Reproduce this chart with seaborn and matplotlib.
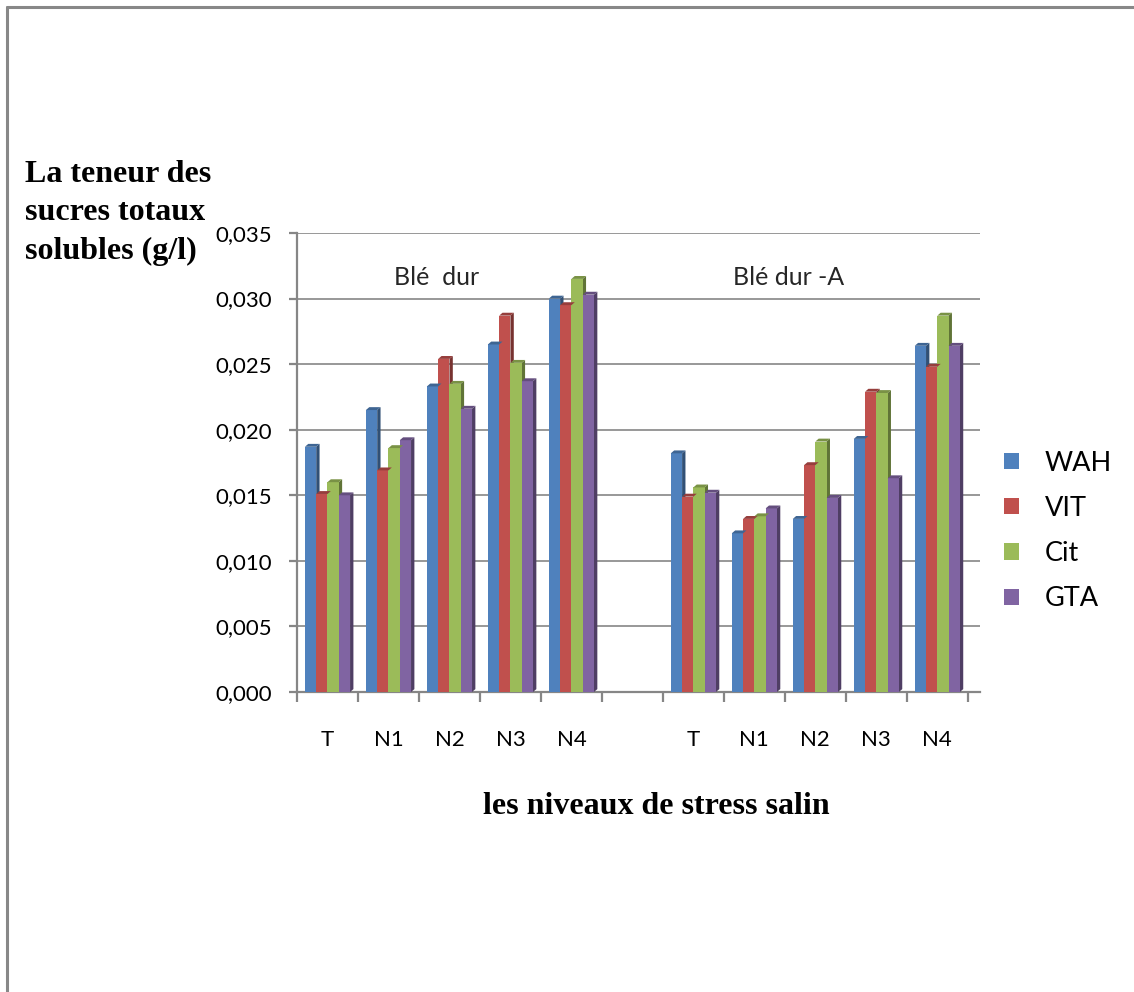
import numpy as np
import pandas as pd
import matplotlib
matplotlib.use("Agg")
import matplotlib.pyplot as plt
import matplotlib.colors as mcolors
from matplotlib.patches import Polygon
from matplotlib.lines import Line2D
from matplotlib.ticker import FuncFormatter, MultipleLocator, FixedLocator
import seaborn as sns

# ---- data -------------------------------------------------------------
niveaux = ["T", "N1", "N2", "N3", "N4"]
groupes = ["Blé  dur", "Blé dur -A"]
varietes = ["WAH", "VIT", "Cit", "GTA"]
couleurs = ["#4F81BD", "#C0504D", "#9BBB59", "#8064A2"]

# Blé dur
wah_bd = [0.0187, 0.0215, 0.0233, 0.0265, 0.0300]
vit_bd = [0.0151, 0.0169, 0.0254, 0.0287, 0.0295]
cit_bd = [0.0160, 0.0186, 0.0235, 0.0251, 0.0315]
gta_bd = [0.0150, 0.0192, 0.0216, 0.0237, 0.0303]

# Blé dur -A
wah_a = [0.0182, 0.0121, 0.0132, 0.0193, 0.0264]
vit_a = [0.0149, 0.0132, 0.0173, 0.0229, 0.0248]
cit_a = [0.0156, 0.0134, 0.0191, 0.0228, 0.0287]
gta_a = [0.0152, 0.0140, 0.0148, 0.0163, 0.0264]

series = {
    groupes[0]: [wah_bd, vit_bd, cit_bd, gta_bd],
    groupes[1]: [wah_a, vit_a, cit_a, gta_a],
}

rows = []
for g, vals in series.items():
    for v, serie in zip(varietes, vals):
        for n, val in zip(niveaux, serie):
            rows.append({"slot": f"{g}|{n}", "variete": v, "valeur": val})
df = pd.DataFrame(rows)

# one empty slot separates the two wheat groups
order = [f"{groupes[0]}|{n}" for n in niveaux] + ["vide"] + [f"{groupes[1]}|{n}" for n in niveaux]

# ---- figure -----------------------------------------------------------
sns.set_theme(style="white")
plt.rcParams["font.family"] = ["Lato", "DejaVu Sans"]
plt.rcParams["text.color"] = "black"

W, H = 1134, 992
fig = plt.figure(figsize=(W / 100, H / 100), dpi=100)
fig.patch.set_facecolor("white")
ax = fig.add_axes([297 / W, 1 - 692 / H, (980 - 297) / W, (692 - 233) / H])

sns.barplot(data=df, x="slot", y="valeur", hue="variete", order=order,
            hue_order=varietes, palette=couleurs, saturation=1, width=0.74,
            errorbar=None, ax=ax, zorder=3, linewidth=0)

# small depth faces on each column
dx, dy = 0.055, 0.00022
for p in list(ax.patches):
    h = p.get_height()
    if not np.isfinite(h) or h <= 0:
        continue
    x0 = p.get_x()
    x1 = x0 + p.get_width()
    fc = np.array(mcolors.to_rgb(p.get_facecolor()))
    side = Polygon([(x1, 0), (x1 + dx, dy), (x1 + dx, h + dy), (x1, h)],
                   closed=True, facecolor=fc * 0.62, edgecolor="none", zorder=2.9)
    top = Polygon([(x0, h), (x0 + dx, h + dy), (x1 + dx, h + dy), (x1, h)],
                  closed=True, facecolor=fc * 0.78, edgecolor="none", zorder=3.1)
    ax.add_patch(side)
    ax.add_patch(top)

grid_col = "#868686"
ax.set_ylim(0, 0.035)
ax.set_xlim(-0.5, 10.7)
ax.yaxis.set_major_locator(MultipleLocator(0.005))
ax.yaxis.set_major_formatter(FuncFormatter(lambda v, _: f"{v:.3f}".replace(".", ",")))
ax.grid(axis="y", color=grid_col, linewidth=1.2, zorder=0)
ax.grid(axis="x", visible=False)

ax.set_xticks(range(len(order)))
ax.set_xticklabels(niveaux + [""] + niveaux)
ax.xaxis.set_minor_locator(FixedLocator(np.arange(-0.5, 10.6, 1.0)))
ax.tick_params(axis="x", which="major", length=0, pad=27, labelsize=16, colors="black")
ax.tick_params(axis="x", which="minor", length=7, width=1.6, color=grid_col, direction="out", bottom=True)
ax.tick_params(axis="y", which="major", length=6, width=1.6, color=grid_col, direction="out",
               pad=12, labelsize=16, left=True)
for lab in ax.get_yticklabels() + ax.get_xticklabels():
    lab.set_color("black")

for s in ["top", "right"]:
    ax.spines[s].set_visible(False)
for s in ["left", "bottom"]:
    ax.spines[s].set_color(grid_col)
    ax.spines[s].set_linewidth(1.6)

ax.set_xlabel("")
ax.set_ylabel("")

# group names inside the plotting area
ax.text(1.79, 0.0316, groupes[0], ha="center", va="center", fontsize=18, color="#262626")
ax.text(7.56, 0.0316, groupes[1], ha="center", va="center", fontsize=18, color="#262626")

# legend on the right
handles, labels = ax.get_legend_handles_labels()
leg = ax.legend(handles, labels, loc="center left", bbox_to_anchor=(980 / W, 1 - 531 / H),
                bbox_transform=fig.transFigure, frameon=False, fontsize=19.5,
                handlelength=0.55, handleheight=0.55, handletextpad=0.95, labelspacing=0.75)
for t in leg.get_texts():
    t.set_color("black")

# axis titles
serif = ["Liberation Serif", "DejaVu Serif"]
fig.text(25 / W, 1 - 213 / H, "La teneur des\nsucres totaux\nsolubles (g/l)", ha="left",
         va="center", fontsize=23, fontweight="bold", family=serif, linespacing=1.45,
         color="black")
fig.text(656 / W, 1 - 806 / H, "les niveaux de stress salin", ha="center", va="center",
         fontsize=23, fontweight="bold", family=serif, color="black")

# frame lines along the top and left edges
fig.add_artist(Line2D([7 / W, 7 / W], [0, 1 - 7 / H], color="#888888", linewidth=2.2,
                      transform=fig.transFigure))
fig.add_artist(Line2D([7 / W, 1], [1 - 7 / H, 1 - 7 / H], color="#888888", linewidth=2.2,
                      transform=fig.transFigure))

fig.savefig("out.png", dpi=100, facecolor="white")
